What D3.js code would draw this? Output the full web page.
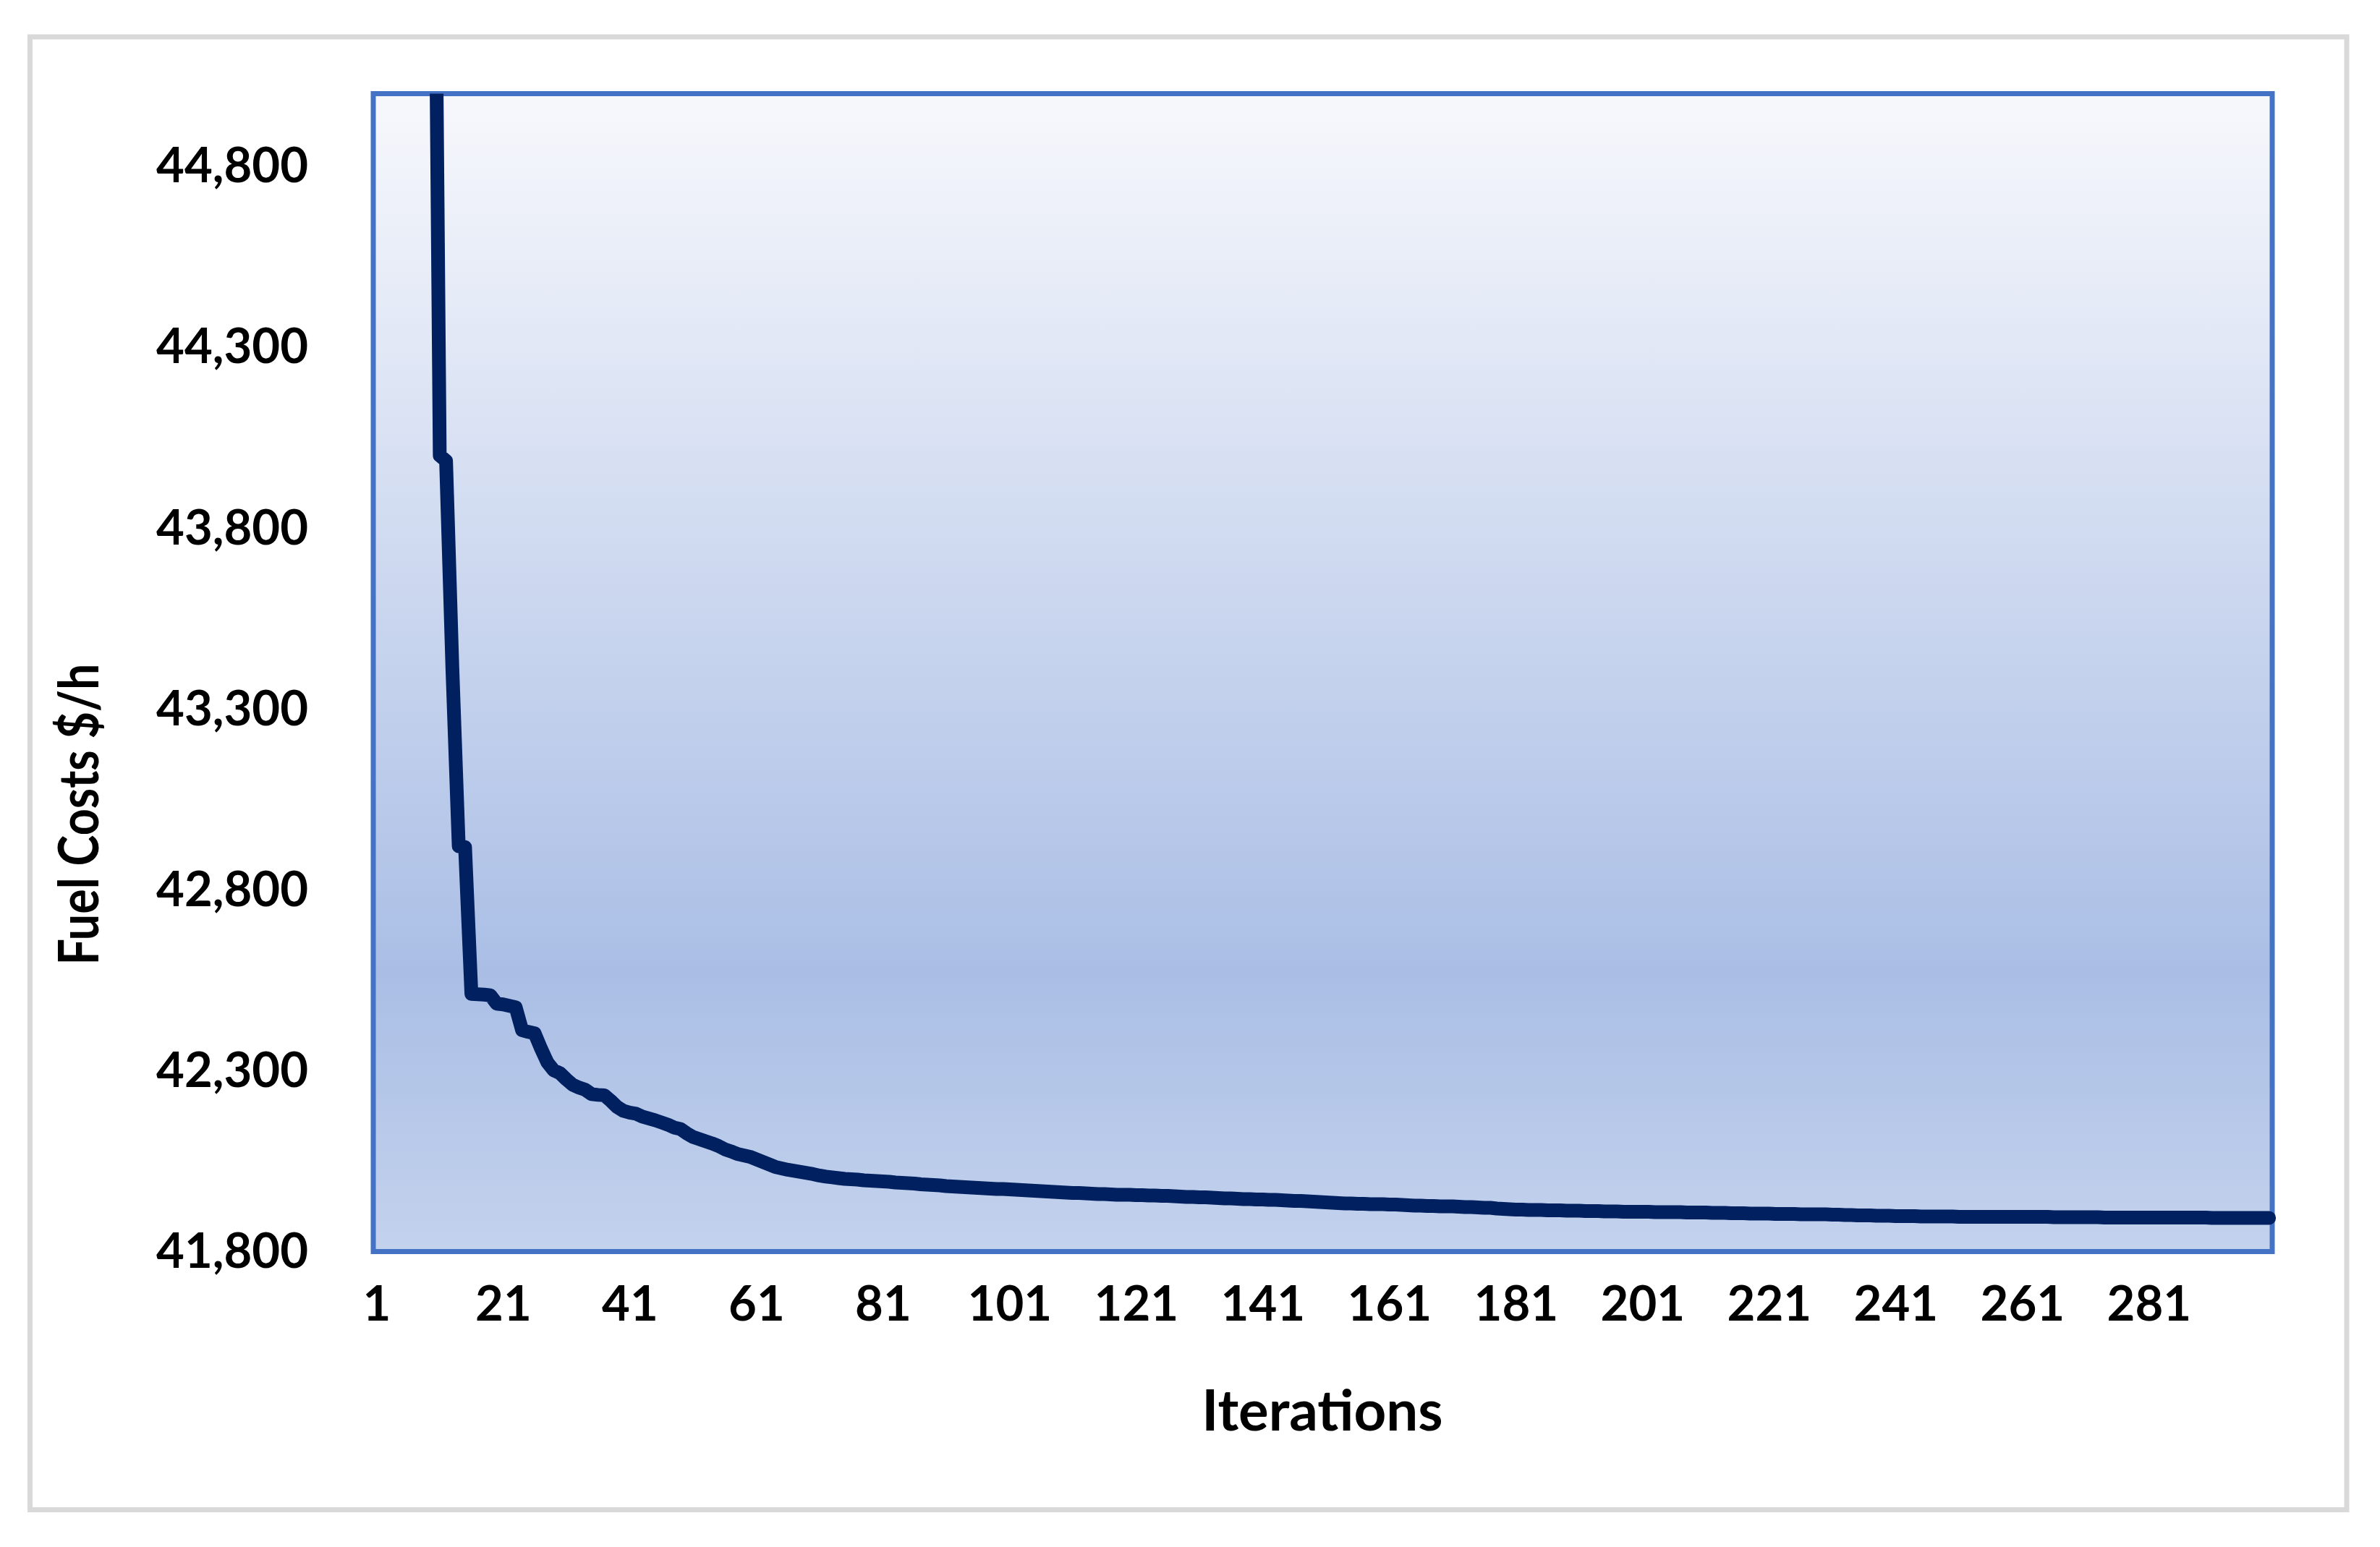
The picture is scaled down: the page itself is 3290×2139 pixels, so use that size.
<!DOCTYPE html>
<html>
<head>
<meta charset="utf-8">
<script src="https://cdn.jsdelivr.net/npm/d3@7"></script>
<style>
  body { margin: 0; background: #fff; }
  text { font-family: Lato, "Open Sans", sans-serif; font-weight: 700; fill: #000; }
</style>
</head>
<body>
<div id="grafico"></div>
<script>
const iteracoes = d3.range(1, 301);

const custos = [
  49800, 49800, 48900, 48900, 48200, 47500, 47500, 47000, 46700, 46050,
  44000, 43985, 43410, 42920, 42918, 42512, 42511, 42510, 42508, 42485,
  42483, 42479, 42475, 42412, 42407, 42403, 42361, 42323, 42301, 42293,
  42276, 42261, 42253, 42247, 42235, 42233, 42232, 42217, 42200, 42189,
  42184, 42181, 42173, 42168, 42163, 42157, 42151, 42143, 42139, 42127,
  42117, 42111, 42105, 42099, 42092, 42083, 42077, 42070, 42066, 42062,
  42055, 42048, 42041, 42034, 42030, 42026, 42023, 42020, 42017, 42014,
  42010, 42007, 42005, 42003, 42001, 42000, 41999, 41997, 41996, 41995,
  41994, 41993, 41991, 41990, 41989, 41988, 41986, 41985, 41984, 41983,
  41981, 41980, 41979, 41978, 41977, 41976, 41975, 41974, 41973, 41973,
  41972, 41971, 41970, 41969, 41968, 41967, 41966, 41965, 41964, 41963,
  41962, 41962, 41961, 41960, 41959, 41959, 41958, 41957, 41957, 41957,
  41956, 41956, 41955, 41955, 41954, 41954, 41953, 41952, 41951, 41951,
  41950, 41950, 41949, 41948, 41947, 41947, 41946, 41945, 41945, 41944,
  41944, 41943, 41943, 41942, 41941, 41940, 41940, 41939, 41938, 41937,
  41936, 41935, 41934, 41933, 41933, 41932, 41932, 41931, 41931, 41931,
  41930, 41930, 41929, 41928, 41927, 41927, 41926, 41926, 41925, 41925,
  41925, 41924, 41923, 41923, 41922, 41921, 41921, 41919, 41918, 41917,
  41916, 41916, 41915, 41915, 41915, 41914, 41914, 41914, 41913, 41913,
  41913, 41912, 41912, 41912, 41911, 41911, 41911, 41910, 41910, 41910,
  41910, 41910, 41909, 41909, 41909, 41909, 41909, 41908, 41908, 41908,
  41908, 41907, 41907, 41907, 41906, 41906, 41906, 41905, 41905, 41905,
  41905, 41904, 41904, 41904, 41904, 41903, 41903, 41903, 41903, 41903,
  41902, 41902, 41901, 41901, 41900, 41900, 41900, 41899, 41899, 41899,
  41898, 41898, 41898, 41898, 41897, 41897, 41897, 41897, 41897, 41897,
  41896, 41896, 41896, 41896, 41896, 41896, 41896, 41896, 41896, 41896,
  41896, 41896, 41896, 41896, 41896, 41895, 41895, 41895, 41895, 41895,
  41895, 41895, 41895, 41894, 41894, 41894, 41894, 41894, 41894, 41894,
  41894, 41894, 41894, 41894, 41894, 41894, 41894, 41894, 41894, 41894,
  41893, 41893, 41893, 41893, 41893, 41893, 41893, 41893, 41893, 41893
];

const ticksY = [41800, 42300, 42800, 43300, 43800, 44300, 44800];
const ticksX = [1, 21, 41, 61, 81, 101, 121, 141, 161, 181, 201, 221, 241, 261, 281];

const width = 3290, height = 2139;
const area = { esq: 516, dir: 3141, topo: 129.5, base: 1730.5 };

const svg = d3.select("#grafico")
  .append("svg")
  .attr("width", width)
  .attr("height", height);

// moldura externa
svg.append("rect")
  .attr("x", 41.5).attr("y", 51)
  .attr("width", 3244 - 41.5).attr("height", 2087.5 - 51)
  .attr("fill", "#fff")
  .attr("stroke", "#d9d9d9")
  .attr("stroke-width", 7);

const defs = svg.append("defs");
const grad = defs.append("linearGradient")
  .attr("id", "fundo")
  .attr("x1", 0).attr("y1", 0).attr("x2", 0).attr("y2", 1);
grad.append("stop").attr("offset", "0%").attr("stop-color", "#f7f8fc");
grad.append("stop").attr("offset", "76%").attr("stop-color", "#aabee5");
grad.append("stop").attr("offset", "100%").attr("stop-color", "#c3d2ed");

defs.append("clipPath").attr("id", "corte")
  .append("rect")
  .attr("x", 0).attr("y", area.topo)
  .attr("width", width).attr("height", height);

const x = d3.scalePoint()
  .domain(iteracoes)
  .range([area.esq, area.dir])
  .padding(0.5);

const y = d3.scaleLinear()
  .domain([41800, 45000])
  .range([area.base, area.topo]);

svg.append("rect")
  .attr("x", area.esq).attr("y", area.topo)
  .attr("width", area.dir - area.esq).attr("height", area.base - area.topo)
  .attr("fill", "url(#fundo)")
  .attr("stroke", "#4472c4")
  .attr("stroke-width", 7);

const eixoY = svg.append("g")
  .attr("transform", `translate(${area.esq},0)`)
  .call(d3.axisLeft(y).tickValues(ticksY).tickFormat(d3.format(",")).tickSize(0).tickPadding(90));
eixoY.select(".domain").remove();
eixoY.selectAll("text").attr("font-size", 67).attr("font-family", null).attr("dy", "0.33em");

const eixoX = svg.append("g")
  .attr("transform", `translate(0,${area.base})`)
  .call(d3.axisBottom(x).tickValues(ticksX).tickSize(0).tickPadding(71));
eixoX.select(".domain").remove();
eixoX.selectAll("text").attr("font-size", 67).attr("font-family", null).attr("dy", "0.36em");

const linha = d3.line()
  .x((d, i) => x(iteracoes[i]))
  .y(d => y(d));

svg.append("path")
  .datum(custos)
  .attr("clip-path", "url(#corte)")
  .attr("d", linha)
  .attr("fill", "none")
  .attr("stroke", "#002060")
  .attr("stroke-width", 19)
  .attr("stroke-linejoin", "round")
  .attr("stroke-linecap", "round");

svg.append("text")
  .attr("x", 1828)
  .attr("y", 1951)
  .attr("dy", "0.35em")
  .attr("text-anchor", "middle")
  .attr("font-size", 78)
  .text("Iterations");

svg.append("text")
  .attr("transform", "translate(109,1126) rotate(-90)")
  .attr("dy", "0.35em")
  .attr("text-anchor", "middle")
  .attr("font-size", 76)
  .attr("textLength", 417)
  .attr("lengthAdjust", "spacingAndGlyphs")
  .text("Fuel Costs $/h");
</script>
</body>
</html>
